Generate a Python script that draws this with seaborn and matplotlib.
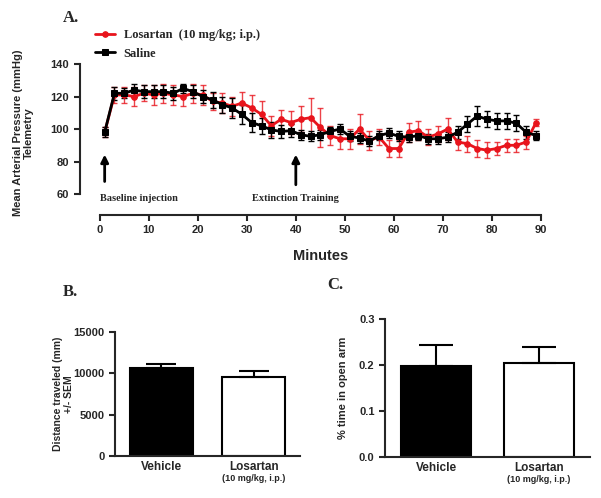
import numpy as np
import pandas as pd
import seaborn as sns
import matplotlib.pyplot as plt

# Panel A: telemetry, mean +/- SEM every 2 min
minutes = list(range(1, 90, 2))
saline_map = [98, 122, 122, 124, 123, 123, 123, 122, 125, 123,
              120, 118, 115, 113, 109, 104, 102, 99.5, 98.5, 99,
              96.5, 95.5, 96.5, 98.5, 100, 95.5, 94.5, 92.5, 96, 97.5,
              95.5, 95, 96, 94, 94, 95, 98, 103, 108, 106,
              105, 105, 103.5, 98, 96]
saline_sem = [3, 4, 3, 4, 4, 4, 4, 4, 3, 4,
              4, 5, 5, 6, 6, 6, 5, 5, 4, 4,
              3, 3, 3, 3, 3, 3, 3, 3, 3, 3,
              3, 3, 3, 3, 3, 3, 4, 5, 6, 5,
              5, 5, 5, 4, 3]
losartan_map = [98, 121, 121, 120, 122, 121, 122, 121, 120, 122,
                121, 117, 116, 114, 116, 113, 109, 102, 106, 104,
                106, 107, 101, 96, 94, 94, 100, 93, 95, 88,
                88, 98, 99, 95, 97, 100, 92, 91, 88, 87,
                88, 90, 90, 92, 104]
losartan_sem = [3, 5, 5, 6, 5, 6, 6, 6, 6, 6,
                6, 5, 6, 6, 7, 8, 8, 6, 6, 7,
                8, 12, 12, 6, 6, 6, 9, 6, 5, 5,
                5, 6, 6, 5, 5, 7, 5, 5, 5, 5,
                4, 4, 4, 4, 2]

# Panels B and C
groups = ["Vehicle", "Losartan"]
distance = [10700, 9500]
distance_sem = [400, 750]
open_arm = [0.197, 0.205]
open_arm_sem = [0.047, 0.035]

RED = "#e8141c"
SERIF = ["Liberation Serif", "DejaVu Serif"]

sns.set_style("ticks")
plt.rcParams["font.family"] = ["Liberation Sans", "DejaVu Sans"]
plt.rcParams["axes.linewidth"] = 1.5

fig = plt.figure(figsize=(6.01, 4.98), dpi=100)

# ---- A ----
ax = fig.add_axes([0.166, 0.6104, 0.734, 0.261])
ax.errorbar(minutes, losartan_map, yerr=losartan_sem, fmt="none", ecolor=RED,
            elinewidth=1.0, capsize=2.5, capthick=1.0, alpha=0.8)
ax.errorbar(minutes, saline_map, yerr=saline_sem, fmt="none", ecolor="black",
            elinewidth=1.0, capsize=2.5, capthick=1.0)
sns.lineplot(x=minutes, y=losartan_map, color=RED, marker="o", markersize=4,
             markeredgecolor=RED, linewidth=2, label="Losartan  (10 mg/kg; i.p.)", ax=ax)
sns.lineplot(x=minutes, y=saline_map, color="black", marker="s", markersize=4,
             markeredgecolor="black", linewidth=2, label="Saline", ax=ax)

ax.set_xlim(0, 90)
ax.set_ylim(60, 140)
ax.set_xticks(range(0, 91, 10))
ax.set_yticks(range(60, 141, 20))
sns.despine(ax=ax, offset={"left": 14.4, "bottom": 15})

ax.annotate("", xy=(1, 86), xytext=(1, 66),
            arrowprops=dict(arrowstyle="-|>", color="black", lw=2, mutation_scale=11))
ax.annotate("", xy=(40, 86), xytext=(40, 64),
            arrowprops=dict(arrowstyle="-|>", color="black", lw=2, mutation_scale=11))
ax.text(0, 57.5, "Baseline injection", ha="left", va="center",
        family=SERIF, fontweight="bold", fontsize=7.5)
ax.text(40, 57.5, "Extinction Training", ha="center", va="center",
        family=SERIF, fontweight="bold", fontsize=7.5)

ax.set_xlabel("Minutes", fontsize=10.5, fontweight="bold")
ax.xaxis.set_label_coords(0.5, -0.42)
ax.set_ylabel("Mean Arterial Pressure (mmHg)\nTelemetry", fontsize=8, fontweight="bold",
              linespacing=1.1)
ax.yaxis.set_label_coords(-0.15, 0.47)

ax.legend(loc="upper left", bbox_to_anchor=(0.158, 0.942), bbox_transform=fig.transFigure,
          frameon=False, handlelength=1.6, handletextpad=0.7, labelspacing=0.55,
          borderaxespad=0, borderpad=0,
          prop={"family": SERIF, "weight": "bold", "size": 9})

# ---- B ----
axB = fig.add_axes([0.1913, 0.0843, 0.308, 0.249])
sns.barplot(x=groups, y=distance, hue=groups, palette=["black", "white"], legend=False,
            edgecolor="black", linewidth=1.5, width=0.68, ax=axB)
axB.errorbar(range(2), distance, yerr=[[0, 0], distance_sem], fmt="none", ecolor="black",
             elinewidth=1.5, capsize=10.5, capthick=1.5)
axB.set_xlim(-0.5, 1.5)
axB.set_ylim(0, 15000)
axB.set_yticks([0, 5000, 10000, 15000])
axB.set_ylabel("Distance traveled (mm)\n+/- SEM", fontsize=7.5, fontweight="bold",
               linespacing=1.1)
axB.yaxis.set_label_coords(-0.22, 0.5)

# ---- C ----
axC = fig.add_axes([0.6406, 0.0823, 0.341, 0.277])
sns.barplot(x=groups, y=open_arm, hue=groups, palette=["black", "white"], legend=False,
            edgecolor="black", linewidth=1.5, width=0.68, ax=axC)
axC.errorbar(range(2), open_arm, yerr=[[0, 0], open_arm_sem], fmt="none", ecolor="black",
             elinewidth=1.5, capsize=12, capthick=1.5)
axC.set_xlim(-0.5, 1.5)
axC.set_ylim(0, 0.3)
axC.set_yticks([0.0, 0.1, 0.2, 0.3])
axC.set_yticklabels(["0.0", "0.1", "0.2", "0.3"])
axC.set_ylabel("% time in open arm", fontsize=8, fontweight="bold")
axC.yaxis.set_label_coords(-0.18, 0.5)

for a in (axB, axC):
    sns.despine(ax=a)
    a.set_xticks([0, 1])
    a.set_xticklabels(groups, fontsize=8.5)
    a.annotate("(10 mg/kg, i.p.)", xy=(1, 0), xycoords=("data", "axes fraction"),
               xytext=(0, -16.5), textcoords="offset points", ha="center", va="center",
               fontsize=6.5, fontweight="bold")

for a in (ax, axB, axC):
    a.tick_params(axis="both", labelsize=8, width=1.5, length=4)
    for lbl in a.get_xticklabels() + a.get_yticklabels():
        lbl.set_fontweight("bold")

for a in (axB, axC):
    a.tick_params(axis="x", length=0, pad=3.5, labelsize=8.5)

fig.text(63 / 601, 1 - 18 / 498, "A.", family=SERIF, fontweight="bold", fontsize=12, va="center")
fig.text(63 / 601, 1 - 292 / 498, "B.", family=SERIF, fontweight="bold", fontsize=12, va="center")
fig.text(327 / 601, 1 - 285 / 498, "C.", family=SERIF, fontweight="bold", fontsize=12, va="center")

fig.savefig("out.png", dpi=100)
